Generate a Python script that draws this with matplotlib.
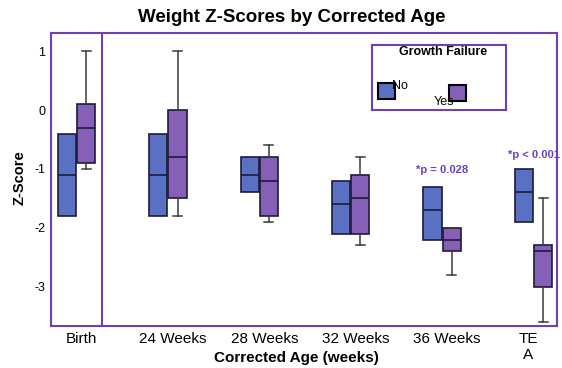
import matplotlib
matplotlib.use('Agg')
import matplotlib.pyplot as plt
from matplotlib.patches import Rectangle
from matplotlib.transforms import ScaledTranslation

plt.rcParams['font.family'] = ['Liberation Sans', 'DejaVu Sans']

# ── Data ────────────────────────────────────────────────

categories = ["Birth", "24 Weeks", "28 Weeks", "32 Weeks", "36 Weeks", "TE\nA"]

# No growth failure: boxes only, no whiskers
no_q1 = [-1.8, -1.8, -1.4, -2.1, -2.2, -1.9]
no_med = [-1.1, -1.1, -1.1, -1.6, -1.7, -1.4]
no_q3 = [-0.4, -0.4, -0.8, -1.2, -1.3, -1.0]

# Growth failure
yes_lo = [-1.0, -1.8, -1.9, -2.3, -2.8, -3.6]
yes_q1 = [-0.9, -1.5, -1.8, -2.1, -2.4, -3.0]
yes_med = [-0.3, -0.8, -1.2, -1.5, -2.2, -2.4]
yes_q3 = [0.1, 0.0, -0.8, -1.1, -2.0, -2.3]
yes_hi = [1.0, 1.0, -0.6, -0.8, -2.0, -1.5]

p_labels = {4: "*p = 0.028", 5: "*p < 0.001"}
p_label_y = {4: -1.02, 5: -0.77}

# ── Style ───────────────────────────────────────────────

BLUE = "#5a70c2"
PURPLE = "#8660b6"
EDGE = "#1c1c3a"
FRAME = "#6a42b4"
ANNOT = "#6b3fc4"

W, H = 562, 368
fig = plt.figure(figsize=(W / 100, H / 100), dpi=100)
ax = fig.add_axes([51 / W, 1 - 326 / H, 506 / W, 293 / H])

positions = list(range(len(categories)))
offset = 0.105
width = 0.2

no_stats = [dict(whislo=a, q1=a, med=m, q3=b, whishi=b, fliers=[])
            for a, m, b in zip(no_q1, no_med, no_q3)]
yes_stats = [dict(whislo=lo, q1=a, med=m, q3=b, whishi=hi, fliers=[])
             for lo, a, m, b, hi in zip(yes_lo, yes_q1, yes_med, yes_q3, yes_hi)]


def draw(stats, pos, color, show_caps):
    ax.bxp(stats, positions=pos, widths=width, patch_artist=True,
           showfliers=False, showcaps=show_caps,
           boxprops=dict(facecolor=color, edgecolor=EDGE, linewidth=1.2),
           medianprops=dict(color=EDGE, linewidth=1.2),
           whiskerprops=dict(color="#3a3a3a", linewidth=1.1),
           capprops=dict(color="#3a3a3a", linewidth=1.1))


draw(no_stats, [p - offset for p in positions], BLUE, False)
draw(yes_stats, [p + offset for p in positions], PURPLE, True)

ax.set_xlim(-0.279, 5.257)
ax.set_ylim(-3.67, 1.31)
ax.set_xticks(positions)
ax.set_xticklabels(categories, fontsize=11)
ax.set_yticks([1, 0, -1, -2, -3])
ax.set_yticklabels(["1", "0", "-1", "-2", "-3"], fontsize=9)
ax.tick_params(axis='both', length=0)
ax.tick_params(axis='x', pad=4)
ax.tick_params(axis='y', pad=4)

# category labels sit a little off the box-pair centres
label_shift = [5, 5, 5, 5, 5, -5]
for lbl, dx in zip(ax.get_xticklabels(), label_shift):
    lbl.set_transform(lbl.get_transform() +
                      ScaledTranslation(dx / 100, 0, fig.dpi_scale_trans))

for s in ax.spines.values():
    s.set_color(FRAME)
    s.set_linewidth(1.5)
ax.axvline(0.279, color=FRAME, linewidth=1.5)

for i, txt in p_labels.items():
    ax.text(i, p_label_y[i], txt, ha='center', va='center',
            fontsize=8, fontweight='bold', color=ANNOT)

fig.text(292 / W, 1 - 17 / H, "Weight Z-Scores by Corrected Age",
         ha='center', va='center', fontsize=13.5, fontweight='bold')
fig.text(296 / W, 1 - 358 / H, "Corrected Age (weeks)",
         ha='center', va='center', fontsize=11, fontweight='bold')
fig.text(20 / W, 1 - 178 / H, "Z-Score", rotation=90,
         ha='center', va='center', fontsize=10.5, fontweight='bold')

# ── Legend box ──────────────────────────────────────────


def px(x, y, w=0, h=0):
    return x / W, 1 - (y + h) / H, w / W, h / H


x0, y0, w0, h0 = px(372, 45, 134, 65)
fig.add_artist(Rectangle((x0, y0), w0, h0, transform=fig.transFigure,
                         facecolor='white', edgecolor=FRAME, linewidth=1.5))
fig.text(443 / W, 1 - 52 / H, "Growth Failure", ha='center', va='center',
         fontsize=9, fontweight='bold')
for (lx, ly), color in [((378, 83), BLUE), ((449, 85), PURPLE)]:
    bx, by, bw, bh = px(lx, ly, 17, 16)
    fig.add_artist(Rectangle((bx, by), bw, bh, transform=fig.transFigure,
                             facecolor=color, edgecolor='black', linewidth=1.5))
fig.text(400 / W, 1 - 86 / H, "No", ha='center', va='center', fontsize=9)
fig.text(444 / W, 1 - 102 / H, "Yes", ha='center', va='center', fontsize=9)

fig.savefig("out.png", dpi=100)
